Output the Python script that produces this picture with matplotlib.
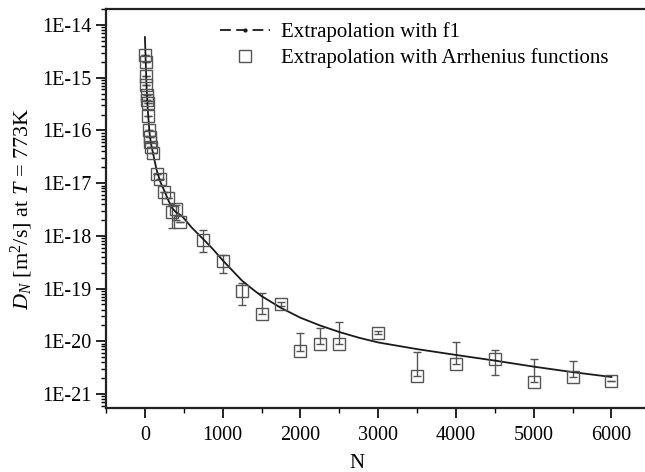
import numpy as np
import matplotlib
matplotlib.use("Agg")
import matplotlib.pyplot as plt
from matplotlib.ticker import FixedLocator, FuncFormatter, MultipleLocator
from matplotlib.lines import Line2D

plt.rcParams["font.family"] = ["Liberation Serif", "DejaVu Serif"]
plt.rcParams["mathtext.fontset"] = "custom"
plt.rcParams["mathtext.rm"] = "Liberation Serif"
plt.rcParams["mathtext.it"] = "Liberation Serif:italic"

# measured points (Arrhenius extrapolation) with error bounds
n_pts = [5, 10, 15, 20, 25, 30, 35, 40, 50, 60, 70, 80, 100, 150, 200, 250, 300,
         350, 400, 450, 750, 1000, 1250, 1500, 1750, 2000, 2250, 2500, 3000,
         3500, 4000, 4500, 5000, 5500, 6000]
d_pts = [2.7e-15, 2.0e-15, 1.07e-15, 7.2e-16, 4.7e-16, 3.8e-16, 3.3e-16, 1.9e-16,
         1.0e-16, 7.6e-17, 6.0e-17, 4.9e-17, 3.7e-17, 1.5e-17, 1.2e-17, 6.8e-18,
         5.2e-18, 2.8e-18, 3.2e-18, 1.8e-18, 8.5e-19, 3.3e-19, 9.0e-20, 3.3e-20,
         5.1e-20, 6.5e-21, 9.0e-21, 9.0e-21, 1.45e-20, 2.2e-21, 3.7e-21, 4.6e-21,
         1.7e-21, 2.1e-21, 1.8e-21]
d_lo = [2.7e-15, 2.0e-15, 1.07e-15, 7.2e-16, 4.7e-16, 3.8e-16, 3.3e-16, 1.9e-16,
        1.0e-16, 7.6e-17, 6.0e-17, 4.9e-17, 3.7e-17, 1.5e-17, 1.2e-17, 6.8e-18,
        5.2e-18, 1.4e-18, 2.0e-18, 1.8e-18, 4.9e-19, 2.0e-19, 4.9e-20, 3.3e-20,
        4.6e-20, 6.5e-21, 9.0e-21, 9.0e-21, 1.35e-20, 2.2e-21, 3.7e-21, 2.3e-21,
        1.7e-21, 2.1e-21, 1.8e-21]
d_hi = [2.7e-15, 2.0e-15, 1.07e-15, 7.2e-16, 4.7e-16, 3.8e-16, 3.3e-16, 1.9e-16,
        1.0e-16, 7.6e-17, 6.0e-17, 4.9e-17, 3.7e-17, 1.5e-17, 1.2e-17, 6.8e-18,
        5.2e-18, 3.8e-18, 3.8e-18, 1.8e-18, 1.3e-18, 4.4e-19, 1.26e-19, 8.1e-20,
        5.6e-20, 1.45e-20, 1.8e-20, 2.3e-20, 1.55e-20, 6.3e-21, 9.5e-21, 6.8e-21,
        4.6e-21, 4.2e-21, 1.8e-21]

# f1 extrapolation curve
n_fit = [1, 10, 20, 30, 40, 60, 80, 100, 150, 200, 250, 300, 350, 400, 475, 600,
         750, 875, 1000, 1125, 1250, 1375, 1500, 1750, 2000, 2250, 2500, 2750,
         3000, 3500, 4000, 4500, 5000, 5500, 6000]
d_fit = [5.9e-15, 2.2e-15, 8.0e-16, 4.0e-16, 2.2e-16, 9.0e-17, 5.5e-17, 4.0e-17,
         1.8e-17, 1.05e-17, 7.2e-18, 4.8e-18, 3.4e-18, 2.8e-18, 2.4e-18, 1.45e-18,
         8.7e-19, 5.6e-19, 3.45e-19, 2.2e-19, 1.41e-19, 1.0e-19, 7.2e-20, 4.3e-20,
         2.8e-20, 2.0e-20, 1.5e-20, 1.17e-20, 9.5e-21, 7.1e-21, 5.5e-21, 4.3e-21,
         3.3e-21, 2.6e-21, 2.1e-21]

d_pts = np.array(d_pts)
yerr = [d_pts - np.array(d_lo), np.array(d_hi) - d_pts]

fig = plt.figure(figsize=(6.45, 4.72), dpi=100)
ax = fig.add_axes([0.1643, 0.1356, 0.844, 0.8453])

ax.plot(n_fit, d_fit, color="#1a1a1a", lw=1.3, zorder=3)
ax.errorbar(n_pts, d_pts, yerr=yerr, fmt="none", ecolor="#555555",
            elinewidth=1.0, capsize=3, capthick=1.0, zorder=2)
ax.plot(n_pts, d_pts, ls="none", marker="s", ms=9, mfc="none",
        mec="#555555", mew=1.0, zorder=4)

ax.set_yscale("log")
ax.set_xlim(-500, 6500)
ax.set_ylim(10 ** -21.266, 10 ** -13.696)

ax.yaxis.set_major_locator(FixedLocator([10.0 ** k for k in range(-21, -13)]))
ax.yaxis.set_major_formatter(FuncFormatter(lambda v, p: "1E%d" % round(np.log10(v))))
minors = [m * 10.0 ** k for k in range(-22, -13) for m in range(2, 10)]
ax.yaxis.set_minor_locator(FixedLocator(minors))
ax.yaxis.set_minor_formatter(FuncFormatter(lambda v, p: ""))
ax.xaxis.set_major_locator(MultipleLocator(1000))
ax.xaxis.set_minor_locator(MultipleLocator(500))

ax.tick_params(which="major", direction="out", length=7, width=1.2,
               labelsize=14.5, top=False, right=False)
ax.tick_params(which="minor", direction="out", length=3.5, width=1.0,
               top=False, right=False)
ax.tick_params(axis="x", which="major", pad=6)

for s in ax.spines.values():
    s.set_linewidth(1.6)
    s.set_color("#222222")

ax.set_xlabel("N", fontsize=15)
ax.xaxis.set_label_coords(0.461, -0.115)
ax.set_ylabel(r"$D_N$ [m$^2$/s] at $T$ = 773K", fontsize=16)
ax.yaxis.set_label_coords(-0.13, 0.5)

h1 = Line2D([], [], color="#1a1a1a", lw=1.3, dashes=(6, 3), marker=".", ms=4)
h2 = Line2D([], [], ls="none", marker="s", ms=8, mfc="none", mec="#555555", mew=1.0)
ax.legend([h1, h2], ["Extrapolation with f1", "Extrapolation with Arrhenius functions"],
          loc="upper left", bbox_to_anchor=(220 / 645, 1 - 22 / 472),
          bbox_transform=fig.transFigure, frameon=False, fontsize=15,
          handlelength=2.4, handletextpad=0.55, borderpad=0, borderaxespad=0,
          labelspacing=0.3, numpoints=1)

fig.savefig("out.png", dpi=100)
